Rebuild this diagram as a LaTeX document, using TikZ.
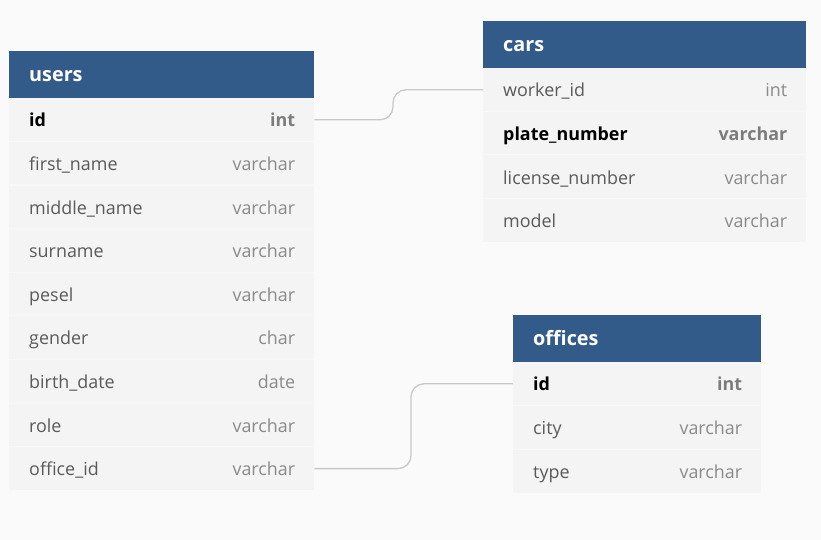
\documentclass[tikz,border=0pt]{standalone}
\usepackage{fontspec}
\setmainfont{Open Sans}
\definecolor{bg}{HTML}{FAFAFA}
\definecolor{hdr}{HTML}{335B8A}
\definecolor{rowfill}{HTML}{F4F4F4}
\definecolor{sepc}{HTML}{F8F8F8}
\definecolor{fieldc}{HTML}{5A5A5A}
\definecolor{typec}{HTML}{8A8A8A}
\definecolor{pktype}{HTML}{7C7C7C}
\definecolor{connc}{HTML}{C8C8C8}
\tikzset{
  hdrbox/.style={fill=hdr, draw=none, inner sep=0pt, minimum height=47pt, anchor=north west},
  hdrtxt/.style={text=white, inner sep=0pt, font=\fontsize{19.8}{22}\selectfont\bfseries, anchor=mid west, yshift=-4.5pt},
  rowbox/.style={fill=rowfill, draw=none, inner sep=0pt, minimum height=43.6pt, anchor=west},
  fieldtxt/.style={text=fieldc, inner sep=0pt, font=\fontsize{17.9}{20}\selectfont, anchor=mid west, yshift=-4.5pt},
  typetxt/.style={text=typec, inner sep=0pt, font=\fontsize{17.9}{20}\selectfont, anchor=mid east, yshift=-4.5pt},
  pkfield/.style={fieldtxt, text=black, font=\fontsize{17.9}{20}\selectfont\bfseries},
  pktypetxt/.style={typetxt, text=pktype, font=\fontsize{17.9}{20}\selectfont\bfseries},
  sepline/.style={draw=sepc, line width=1pt},
  conn/.style={draw=connc, line width=1.3pt, rounded corners=13pt}
}
% #1 name, #2 x, #3 y centre, #4 width, #5 field, #6 type
\newcommand{\erow}[6]{%
  \node[rowbox, minimum width=#4pt] (#1) at (#2,#3) {};
  \draw[sepline] (#1.north west) -- (#1.north east);
  \node[fieldtxt] (#1-f) at ([xshift=20pt]#1.west) {#5};
  \node[typetxt] (#1-t) at ([xshift=-19pt]#1.east) {#6};
}
\newcommand{\erowpk}[6]{%
  \node[rowbox, minimum width=#4pt] (#1) at (#2,#3) {};
  \draw[sepline] (#1.north west) -- (#1.north east);
  \node[pkfield] (#1-f) at ([xshift=20pt]#1.west) {#5};
  \node[pktypetxt] (#1-t) at ([xshift=-19pt]#1.east) {#6};
}
% #1 name, #2 x, #3 y top, #4 width, #5 title
\newcommand{\ehead}[5]{%
  \node[hdrbox, minimum width=#4pt] (#1) at (#2,#3) {};
  \node[hdrtxt] (#1-title) at ([xshift=20pt]#1.west) {#5};
}
\begin{document}
\begin{tikzpicture}[x=1pt, y=-1pt]
\fill[bg] (0,0) rectangle (821,540);
\useasboundingbox (0,0) rectangle (821,540);

% users
\erowpk{u-id}{9}{119.8}{305}{id}{int}
\erow{u-first}{9}{163.4}{305}{first\_name}{varchar}
\erow{u-middle}{9}{207.0}{305}{middle\_name}{varchar}
\erow{u-surname}{9}{250.6}{305}{surname}{varchar}
\erow{u-pesel}{9}{294.2}{305}{pesel}{varchar}
\erow{u-gender}{9}{337.8}{305}{gender}{char}
\erow{u-birth}{9}{381.4}{305}{birth\_date}{date}
\erow{u-role}{9}{425.0}{305}{role}{varchar}
\erow{u-office}{9}{468.6}{305}{office\_id}{varchar}
\ehead{users}{9}{51}{305}{users}

% cars
\erow{c-worker}{483}{89.8}{323}{worker\_id}{int}
\erowpk{c-plate}{483}{133.4}{323}{plate\_number}{varchar}
\erow{c-license}{483}{177.0}{323}{license\_number}{varchar}
\erow{c-model}{483}{220.6}{323}{model}{varchar}
\ehead{cars}{483}{21}{323}{cars}

% offices
\erowpk{o-id}{513}{383.8}{248}{id}{int}
\erow{o-city}{513}{427.4}{248}{city}{varchar}
\erow{o-type}{513}{471.0}{248}{type}{varchar}
\ehead{offices}{513}{315}{248}{offices}

% connectors
\draw[conn] (u-id.east) -| ([xshift=-90pt]c-worker.west) -- (c-worker.west);
\draw[conn] (u-office.east) -| ([xshift=-102pt]o-id.west) -- (o-id.west);
\end{tikzpicture}
\end{document}
